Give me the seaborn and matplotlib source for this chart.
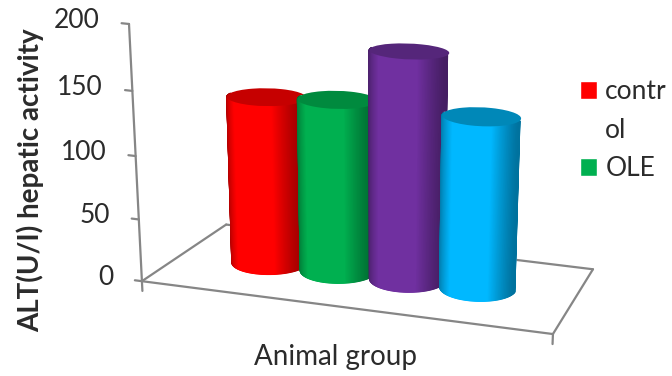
import numpy as np
import matplotlib
matplotlib.use("Agg")
import matplotlib.pyplot as plt
import matplotlib.transforms as mtransforms
from matplotlib.patches import Ellipse, Patch
import seaborn as sns

groups = ["control", "OLE", "Group 3", "Group 4"]
alt_values = [137, 141, 185, 140]
bar_colors = ["#ff0000", "#00b050", "#7030a0", "#00b8ff"]
cap_colors = ["#c60000", "#008a3e", "#55267a", "#0088b8"]
value_ticks = [0, 50, 100, 150, 200]
legend_labels = ["contr", "ol", "OLE"]
ylabel_text = "ALT(U/I) hepatic activity"
xlabel_text = "Animal group"

FIG_W, FIG_H = 672, 376
U_LEFT, U_RIGHT = -1.25, 4.35
RADIUS_U, RADIUS_W = 0.52, 0.2
GREY = "#868686"
INK = "#2b2b2b"

# Anchor points of the 3-D box: (category, depth, value) -> pixel position.
box_anchors = [
    ((U_LEFT, 0, 0), (142, 280)),
    ((U_RIGHT, 0, 0), (553, 335)),
    ((U_LEFT, 1, 0), (226, 226)),
    ((U_RIGHT, 1, 0), (593, 268)),
    ((U_LEFT, 0, 200), (129, 23)),
    ((U_RIGHT, 0, 200), (563, 70)),
    ((U_LEFT, 1, 200), (219, -5)),
    ((U_RIGHT, 1, 200), (604, 32)),
]


def fit_camera(anchors):
    rows = []
    for (u, w, v), (px, py) in anchors:
        p = [u, w, v / 200, 1]
        sx, sy = px / 300, py / 300
        rows.append(p + [0, 0, 0, 0] + [-sx * c for c in p])
        rows.append([0, 0, 0, 0] + p + [-sy * c for c in p])
    return np.linalg.svd(np.array(rows))[2][-1].reshape(3, 4)


CAMERA = fit_camera(box_anchors)


class BoxView(mtransforms.Transform):
    """Projects a plane of the 3-D box to the canvas; one of box depth/height is fixed."""
    input_dims = output_dims = 2
    is_affine = False
    has_inverse = False

    def __init__(self, box_depth=None, box_height=None):
        super().__init__()
        self.box_depth, self.box_height = box_depth, box_height

    def transform_non_affine(self, pts):
        pts = np.asarray(pts, float)
        n = len(pts)
        u = pts[:, 0]
        if self.box_depth is not None:
            w, v = np.full(n, self.box_depth), pts[:, 1]
        else:
            w, v = pts[:, 1], np.full(n, self.box_height)
        h = CAMERA @ np.column_stack([u, w, v / 200, np.ones(n)]).T
        px = 300 * h[0] / h[2]
        py = 300 * h[1] / h[2]
        return np.column_stack([px, FIG_H - py])


sns.set_theme(style="white")
plt.rcParams["font.family"] = ["Lato", "DejaVu Sans"]

fig = plt.figure(figsize=(FIG_W / 100, FIG_H / 100), dpi=100)
ax = fig.add_axes([0, 0, 1, 1])

sns.barplot(x=groups, y=alt_values, hue=groups, palette=bar_colors, width=2 * RADIUS_U,
            dodge=False, legend=False, ax=ax)
for i, bar in enumerate(ax.patches):
    bar.set_transform(BoxView(box_depth=0.5))
    bar.set_clip_on(False)
    bar.set_zorder(3 + i)
ax.axis("off")

# Floor outline
floor = BoxView(box_height=0)
for us, ws in [((U_LEFT, U_RIGHT), (0, 0)), ((U_LEFT, U_RIGHT), (1, 1)),
               ((U_LEFT, U_LEFT), (0, 1)), ((U_RIGHT, U_RIGHT), (0, 1))]:
    ax.plot(us, ws, color=GREY, lw=1.6, transform=floor, clip_on=False, zorder=1)

# Value axis, ticks and tick labels
wall = BoxView(box_depth=0)
ax.plot([U_LEFT, U_LEFT], [0, 200], color=GREY, lw=1.6, transform=wall, clip_on=False, zorder=1)
for tick in value_ticks:
    ax.plot([U_LEFT - 0.1, U_LEFT], [tick, tick], color=GREY, lw=1.6, transform=wall,
            clip_on=False, zorder=1)
    ax.text(U_LEFT - 0.40, tick, str(tick), ha="right", va="center", fontsize=19, color=INK,
            transform=wall, clip_on=False)
for edge in (U_LEFT, U_RIGHT):
    ax.plot([edge, edge], [0, -8], color=GREY, lw=1.6, transform=wall, clip_on=False, zorder=1)

# Cylinders: shaded vertical strips following the front rim, closed by a cap
angles = np.linspace(np.pi, 0, 141)
for i, (value, color, cap) in enumerate(zip(alt_values, bar_colors, cap_colors)):
    rgb = np.array(matplotlib.colors.to_rgb(color))
    for a, b in zip(angles[:-1], angles[1:]):
        left, right = np.cos(a), np.cos(b)
        t = (left + right) / 2
        rim = np.sin((a + b) / 2)
        light = 0.62 + 0.38 * min(1.0, (1 - abs(t)) / 0.5)
        shade = tuple(rgb * light)
        ax.bar(i + t * RADIUS_U, value, width=(right - left) * RADIUS_U, color=shade,
               edgecolor=shade, linewidth=0.9, transform=BoxView(box_depth=0.5 - RADIUS_W * rim),
               clip_on=False, zorder=3 + i)
    ax.add_patch(Ellipse((i, 0.5), 2 * RADIUS_U, 2 * RADIUS_W, facecolor=cap, edgecolor="none",
                         transform=BoxView(box_height=value), clip_on=False, zorder=3.5 + i))

# Axis titles
fig.text(30 / FIG_W, 1 - 180 / FIG_H, ylabel_text, rotation=90, ha="center", va="center",
         fontsize=20, fontweight="bold", color=INK)
fig.text(335 / FIG_W, 1 - 357 / FIG_H, xlabel_text, ha="center", va="center",
         fontsize=20, color=INK)

# Legend; the long label wraps, so its second line sits in a row with a blank key
handles = [Patch(facecolor=bar_colors[0]), Patch(facecolor="none", edgecolor="none"),
           Patch(facecolor=bar_colors[1])]
fig.legend(handles, legend_labels, loc="upper left", bbox_to_anchor=(580 / FIG_W, 1 - 79 / FIG_H),
           frameon=False, fontsize=19, labelcolor=INK, handlelength=0.66, handleheight=0.66,
           handletextpad=0.3, labelspacing=0.52, borderpad=0, borderaxespad=0)

fig.savefig("out.png", dpi=100)
